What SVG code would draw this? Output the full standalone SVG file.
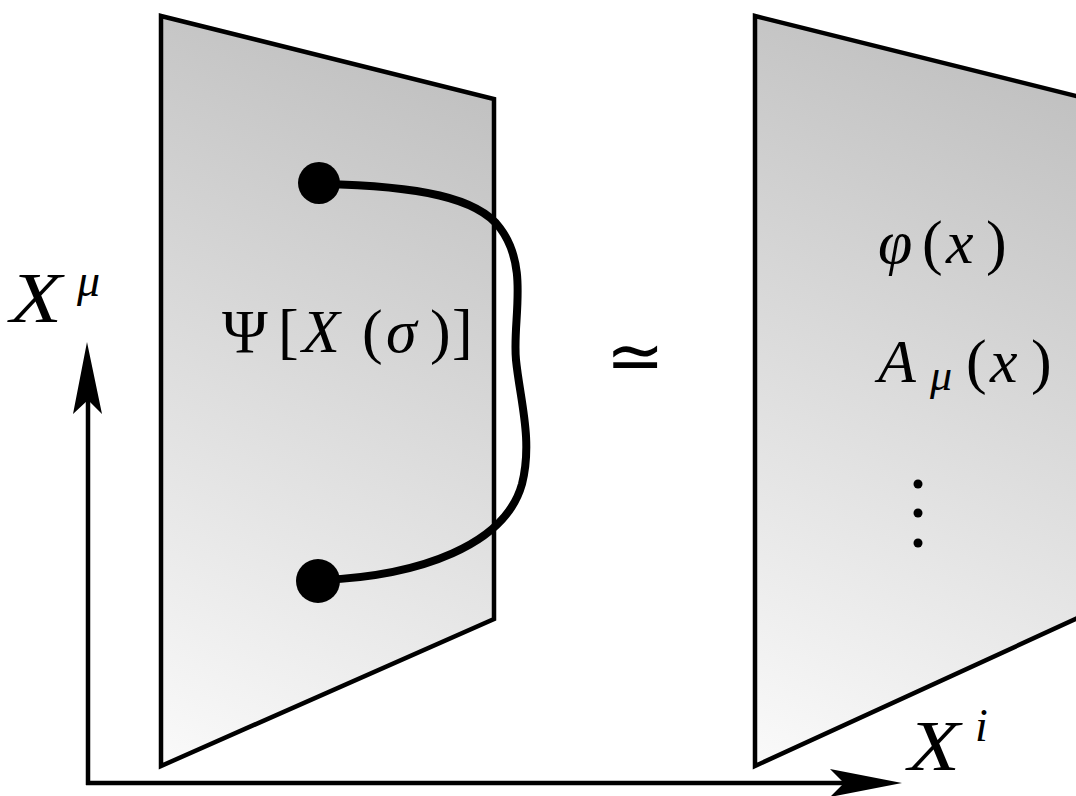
<svg xmlns="http://www.w3.org/2000/svg" width="1076" height="796" viewBox="0 0 1076 796">
<style>
.panel{stroke:#000;stroke-width:4.5;stroke-linejoin:miter}
.ax{stroke:#000;stroke-width:4.5;fill:none}
.l{font-family:'Liberation Serif','DejaVu Serif',serif;fill:#000}
.i{font-style:italic}
.str{stroke:#000;stroke-width:8;fill:none;stroke-linecap:round}
</style>
<defs>
<linearGradient id="gL" gradientUnits="userSpaceOnUse" x1="494" y1="40" x2="161" y2="765">
<stop offset="0" stop-color="#bdbdbd"/>
<stop offset="1" stop-color="#fafafa"/>
</linearGradient>
<linearGradient id="gR" gradientUnits="userSpaceOnUse" x1="1076" y1="40" x2="755" y2="765">
<stop offset="0" stop-color="#bdbdbd"/>
<stop offset="1" stop-color="#fafafa"/>
</linearGradient>
</defs>
<rect width="1076" height="796" fill="#fff"/>
<g id="panel-left">
<polygon class="panel" fill="url(#gL)" points="161,16 494,99 494,619 161,766"/>
</g>
<g id="panel-right">
<polygon class="panel" fill="url(#gR)" points="755,16 1080,97 1080,617 755,766"/>
</g>
<g id="axes">
<path class="ax" d="M88,785 V400"/>
<path class="ax" d="M86,783 H845"/>
<path d="M87,342 L102,414 L88,400 L73,414 Z" fill="#000"/>
<path d="M902,783 L830,769 L844,783 L830,797 Z" fill="#000"/>
</g>
<g id="string">
<path class="str" d="M322,184 C420,186 478,198 500,228 C530,268 512,320 516,360 C520,400 533,440 522,484 C505,545 420,576 322,580"/>
<circle cx="319" cy="183" r="21" fill="#000"/>
<circle cx="318" cy="581" r="22" fill="#000"/>
</g>
<g id="label-psi">
<text class="l" y="352" font-size="62"><tspan x="222">Ψ</tspan><tspan x="278">[</tspan><tspan class="i" x="302">X</tspan><tspan x="362">(</tspan><tspan class="i" x="386">σ</tspan><tspan x="430">)</tspan><tspan x="452">]</tspan></text>
</g>
<g id="label-Xmu">
<text class="l i" x="10" y="322" font-size="72" textLength="52" lengthAdjust="spacingAndGlyphs">X</text>
<text class="l i" x="77" y="296" font-size="46">μ</text>
</g>
<g id="label-Xi">
<text class="l i" x="908" y="770" font-size="72" textLength="52" lengthAdjust="spacingAndGlyphs">X</text>
<text class="l i" x="975" y="741" font-size="46">i</text>
</g>
<g id="label-simeq">
<text x="606" y="380" font-family="DejaVu Sans,sans-serif" font-size="70">≃</text>
</g>
<g id="label-fields">
<text class="l" y="263" font-size="62"><tspan class="i" x="878">φ</tspan><tspan x="922">(</tspan><tspan class="i" x="946">x</tspan><tspan x="986">)</tspan></text>
<text class="l" y="382" font-size="62"><tspan class="i" x="878">A</tspan><tspan class="i" x="930" y="390" font-size="44">μ</tspan><tspan x="966" y="382">(</tspan><tspan class="i" x="990">x</tspan><tspan x="1031">)</tspan></text>
<circle cx="918" cy="484" r="4.5" fill="#000"/>
<circle cx="918" cy="513" r="4.5" fill="#000"/>
<circle cx="918" cy="543" r="4.5" fill="#000"/>
</g>
</svg>
